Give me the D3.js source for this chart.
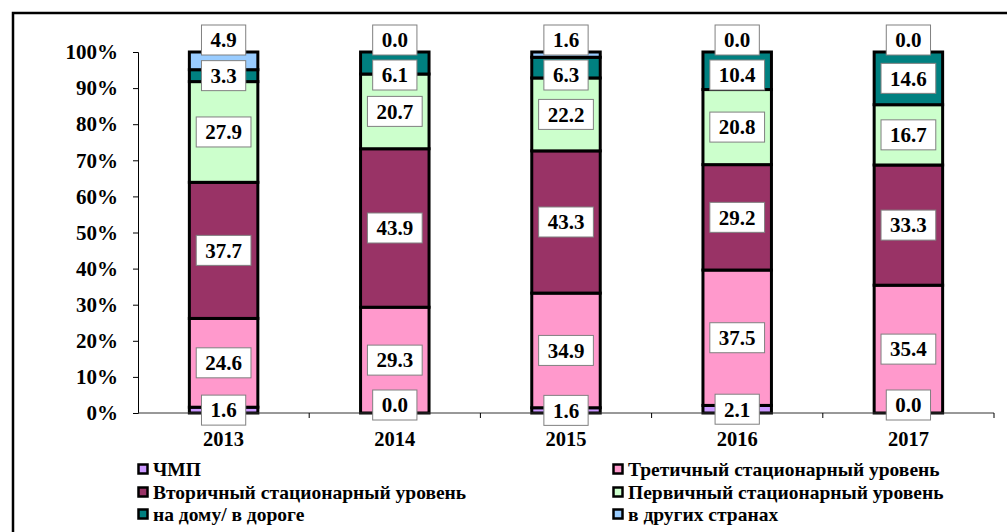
<!DOCTYPE html>
<html><head><meta charset="utf-8">
<script src="https://cdn.jsdelivr.net/npm/d3@7"></script>
<style>body{margin:0;background:#fff}svg{display:block}
svg text{font-family:"Liberation Serif","Times New Roman","DejaVu Serif",serif;font-weight:bold;fill:#000}</style>
</head><body>
<script>
const years = ["2013", "2014", "2015", "2016", "2017"];
const seriesNames = ["ЧМП", "Третичный стационарный уровень", "Вторичный стационарный уровень", "Первичный стационарный уровень", "на дому/ в дороге", "в других странах"];
const chmp      = [1.6, 0.0, 1.6, 2.1, 0.0];
const tertiary  = [24.6, 29.3, 34.9, 37.5, 35.4];
const secondary = [37.7, 43.9, 43.3, 29.2, 33.3];
const primary   = [27.9, 20.7, 22.2, 20.8, 16.7];
const home      = [3.3, 6.1, 6.3, 10.4, 14.6];
const abroad    = [4.9, 0.0, 1.6, 0.0, 0.0];
const yTickValues = [0, 0.1, 0.2, 0.3, 0.4, 0.5, 0.6, 0.7, 0.8, 0.9, 1.0];
const colors = ["#CC99FF", "#FF99CC", "#993366", "#CCFFCC", "#008080", "#99CCFF"];

const seriesValues = [chmp, tertiary, secondary, primary, home, abroad];
const table = years.map((y, i) => {
  const row = {year: y};
  seriesNames.forEach((s, j) => row[s] = seriesValues[j][i]);
  return row;
});

const W = 1007, H = 532;
const svg = d3.select("body").append("svg").attr("width", W).attr("height", H);

svg.append("rect").attr("x", 13).attr("y", 13).attr("width", 1100).attr("height", 700)
  .attr("fill", "#fff").attr("stroke", "#000").attr("stroke-width", 2.5);

const x = d3.scaleBand().domain(years).range([138, 994]).paddingInner(0.6).paddingOuter(0.3);
const y = d3.scaleLinear().domain([0, 1]).range([413, 52]);

const stack = d3.stack().keys(seriesNames).offset(d3.stackOffsetExpand);
const stacked = stack(table);

// y axis
const yAxis = svg.append("g").attr("transform", "translate(138,0)")
  .call(d3.axisLeft(y).tickValues(yTickValues).tickFormat(d3.format(".0%")).tickSize(5).tickPadding(15));
yAxis.attr("font-family", null).attr("font-size", null);
yAxis.select(".domain").attr("stroke", "#000");
yAxis.selectAll(".tick line").attr("stroke", "#000");
yAxis.selectAll("text").style("font-size", "21px").attr("fill", "#000");

// bars
const g = svg.append("g");
stacked.forEach((layer, j) => {
  g.selectAll(null).data(layer).enter().append("rect")
    .attr("x", d => x(d.data.year))
    .attr("width", x.bandwidth())
    .attr("y", d => y(d[1]))
    .attr("height", d => y(d[0]) - y(d[1]))
    .attr("fill", colors[j])
    .attr("stroke", "#000").attr("stroke-width", 3);
});

// x axis
svg.append("line").attr("x1", x.range()[0]).attr("x2", x.range()[1]).attr("y1", y(0)).attr("y2", y(0)).attr("stroke", "#333").attr("stroke-width", 1);
const gap = (x.step() - x.bandwidth()) / 2;
years.forEach(yr => {
  const bx = x(yr) + x.bandwidth() + gap;
  svg.append("line").attr("x1", bx).attr("x2", bx).attr("y1", y(0)).attr("y2", y(0) + 5).attr("stroke", "#000");
  svg.append("text").attr("x", x(yr) + x.bandwidth() / 2).attr("y", 446)
    .attr("text-anchor", "middle").style("font-size", "20.5px").text(yr);
});

// data labels
const labelG = svg.append("g");
years.forEach((yr, i) => {
  const topY = y(1) - 12;
  for (let j = seriesNames.length - 1; j >= 0; j--) {
    const d = stacked[j][i];
    const v = seriesValues[j][i];
    let cy = (y(d[0]) + y(d[1])) / 2;
    if (j === seriesNames.length - 1) cy = topY;
    else if (j === seriesNames.length - 2) cy = Math.max(cy, topY + 35);
    else if (j === 0 && v === 0) cy = cy - 8;
    const t = labelG.append("text").attr("x", x(yr) + x.bandwidth() / 2).attr("y", cy).attr("dy", "0.35em")
      .attr("text-anchor", "middle").style("font-size", "21px")
      .text(v.toFixed(1));
    const tw = t.node().getComputedTextLength();
    labelG.insert("rect", () => t.node())
      .attr("x", x(yr) + x.bandwidth() / 2 - tw / 2 - 9).attr("y", cy - 15)
      .attr("width", tw + 18).attr("height", 30)
      .attr("fill", "#fff").attr("stroke", "#808080").attr("stroke-width", 1);
  }
});

// legend
const legendPos = [[137, 469], [612, 469], [137, 492], [612, 492], [137, 514], [612, 514]];
seriesNames.forEach((name, j) => {
  const [lx, ly] = legendPos[j];
  svg.append("rect").attr("x", lx + 1.5).attr("y", ly - 4.5).attr("width", 9).attr("height", 9)
    .attr("fill", colors[j]).attr("stroke", "#000").attr("stroke-width", 2.5);
  svg.append("text").attr("x", lx + 16).attr("y", ly).attr("dy", "0.35em")
    .style("font-size", "19.5px").text(name);
});
</script>
</body></html>
